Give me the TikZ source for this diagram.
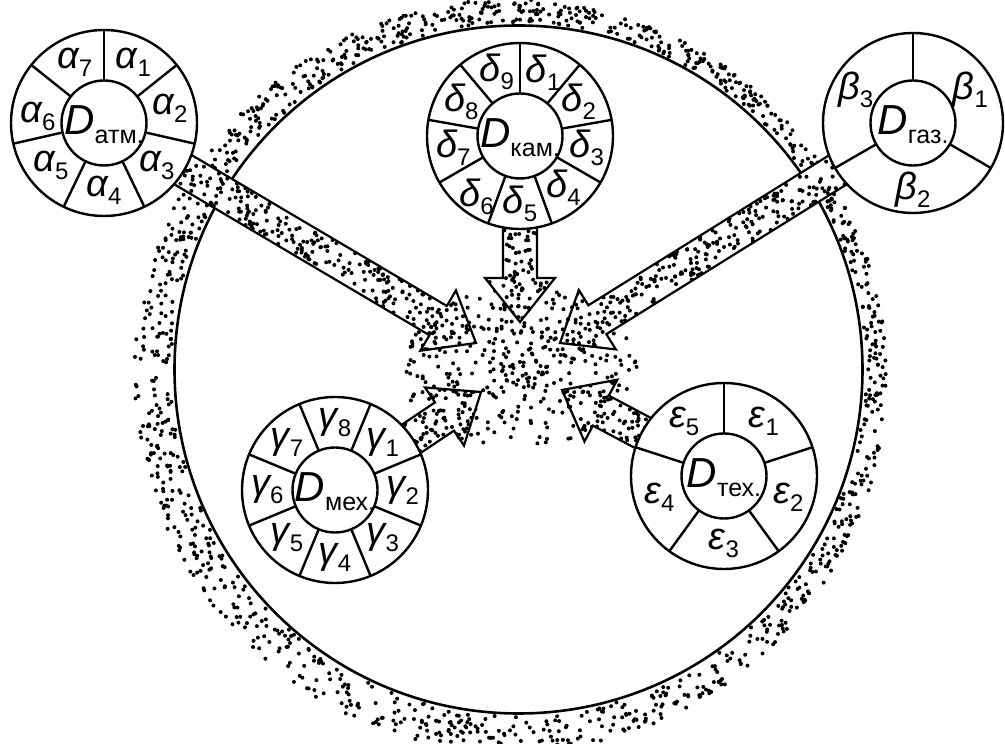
\documentclass[tikz,border=0pt]{standalone}
\usepackage{fontspec}
\setmainfont{Liberation Sans}
\usetikzlibrary{calc}
\newcommand\gl[2]{{\fontsize{38}{38}\selectfont\itshape #1}\raisebox{-8pt}{\fontsize{24}{24}\selectfont #2}}
\newcommand\dl[1]{{\fontsize{42}{42}\selectfont\itshape D}\raisebox{-9pt}{\fontsize{25}{25}\selectfont #1}}
\tikzset{
  wl/.style={line width=2.4pt},
  arrowline/.style={line width=2.2pt, line join=miter},
  lab/.style={inner sep=0pt, anchor=center},
  dot/.style={fill=black}
}
\newcommand\arrowpts[2]{%
  \coordinate (h) at ($(#2)!44pt!(#1)$);
  \coordinate (p1) at ($(#1)!17pt!-90:(#2)$);
  \coordinate (p2) at ($(h)!17pt!-90:(#2)$);
  \coordinate (p3) at ($(h)!35pt!-90:(#2)$);
  \coordinate (p5) at ($(h)!35pt!90:(#2)$);
  \coordinate (p6) at ($(h)!17pt!90:(#2)$);
  \coordinate (p7) at ($(#1)!17pt!90:(#2)$);
}
\newcommand\dotarrow[3]{%
  \arrowpts{#1}{#2}
  \fill[white] (p1) -- (p2) -- (p3) -- (#2) -- (p5) -- (p6) -- (p7) -- cycle;
  \begin{scope}
    \clip (p1) -- (p2) -- (p3) -- (#2) -- (p5) -- (p6) -- (p7) -- cycle;
    \pgfmathtruncatemacro\nn{(#3-125)*0.7+1}
    \foreach \i in {1,...,\nn}{
      \pgfmathsetmacro\dd{40+rnd*(#3-125)}
      \pgfmathsetmacro\vv{(rnd-0.5)*32}
      \fill[dot] ($(#2)!\dd pt!(#1)!\vv pt!90:(#1)$) circle (2);
    }
    \foreach \i in {1,...,60}{
      \pgfmathsetmacro\dd{rnd*46}
      \pgfmathsetmacro\vv{(rnd-0.5)*68}
      \fill[dot] ($(#2)!\dd pt!(#1)!\vv pt!90:(#1)$) circle (2);
    }
  \end{scope}
  \draw[arrowline] (p1) -- (p2) -- (p3) -- (#2) -- (p5) -- (p6) -- (p7);
}
% #1 centre, #2 outer radius, #3 sectors, #4 first divider angle,
% #5 letter, #6 subscript of D, #7 label to nudge, #8 its vertical nudge
\newcommand\wheel[8]{%
  \fill[white] (#1) circle (#2);
  \draw[wl] (#1) circle (#2);
  \draw[wl] (#1) circle (42.5);
  \foreach \k in {1,...,#3}{
    \draw[wl] ($(#1)+({#4-(\k-1)*360/#3}:42.5)$) -- ($(#1)+({#4-(\k-1)*360/#3}:#2)$);
    \pgfmathsetmacro\ys{(\k==#7)*(#8)}
    \node[lab, yshift=\ys pt] (#1-l\k) at ($(#1)+({#4-(\k-0.5)*360/#3}:{(#2+42.5)/2})$) {\gl{#5}{\k}};
  }
  \node[lab, yshift=-2pt] (#1-D) at (#1) {\dl{#6}};
}
\begin{document}
\begin{tikzpicture}[x=1pt, y=1pt]
\useasboundingbox (0,0) rectangle (1005,744);
\pgfmathsetseed{7}
\coordinate (C) at (518.5,374.5);
\coordinate (M) at (519,376);
\coordinate (atm) at (104,621);
\coordinate (kam) at (520,608);
\coordinate (gaz) at (913,621);
\coordinate (mex) at (335,254);
\coordinate (tex) at (724,268);
\coordinate (tA) at (476,401);
\coordinate (tK) at (520,422);
\coordinate (tG) at (560,401);
\coordinate (tM) at (481,352);
\coordinate (tT) at (562,354);
% dotted ring
\foreach \i in {1,...,1250}{
  \pgfmathsetmacro\t{360*rnd}
  \pgfmathsetmacro\w{29-8*cos(\t)-6*sin(\t)}
  \pgfmathsetmacro\r{347+\w*rnd}
  \fill[dot] ($(C)+(\t:\r)$) circle (2);
}
\draw[line width=2.6pt] (C) circle (344);
% central cloud
\foreach \i in {1,...,340}{
  \pgfmathsetmacro\t{360*rnd}
  \pgfmathsetmacro\s{rnd^0.6}
  \fill[dot] ($(M)+({118*\s*cos(\t)},{82*\s*sin(\t)})$) circle (2);
}
% arrows
\dotarrow{atm}{tA}{432}
\dotarrow{kam}{tK}{186}
\dotarrow{gaz}{tG}{416}
\dotarrow{mex}{tM}{176}
\dotarrow{tex}{tT}{183}
% wheels
\wheel{atm}{93}{7}{90}{α}{атм.}{6}{-8}
\wheel{kam}{93}{9}{90}{δ}{кам.}{6}{-9}
\wheel{gaz}{90}{3}{90}{β}{газ.}{0}{0}
\wheel{mex}{93}{8}{67.5}{γ}{мех.}{0}{0}
\wheel{tex}{93}{5}{90}{ε}{тех.}{0}{0}
\end{tikzpicture}
\end{document}
